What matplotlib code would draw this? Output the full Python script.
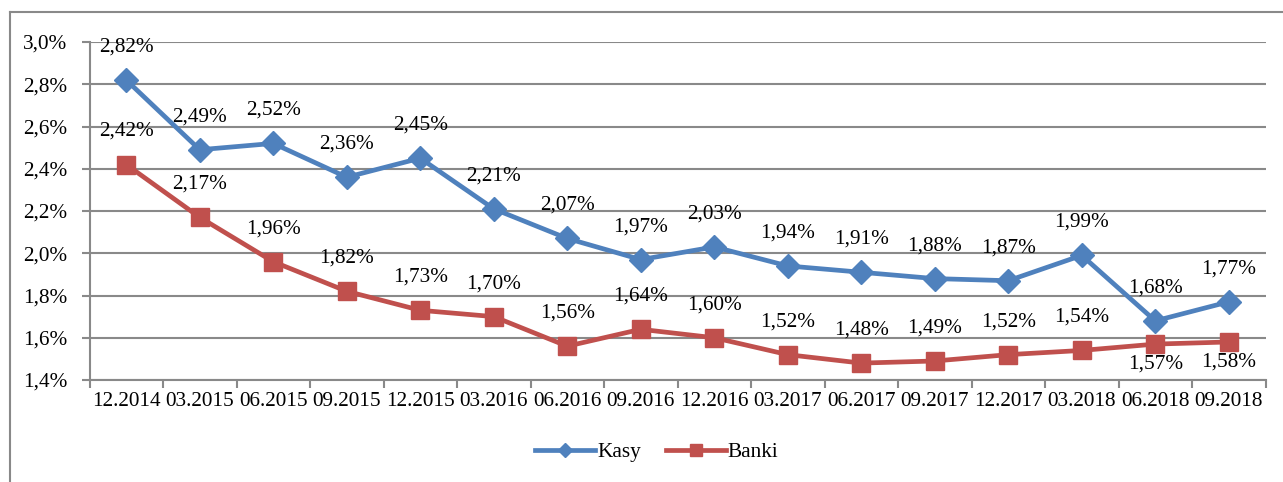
import matplotlib
matplotlib.use("Agg")
import matplotlib.pyplot as plt
from matplotlib.lines import Line2D
from matplotlib.ticker import FixedLocator, FuncFormatter

categories = ["12.2014", "03.2015", "06.2015", "09.2015", "12.2015", "03.2016",
              "06.2016", "09.2016", "12.2016", "03.2017", "06.2017", "09.2017",
              "12.2017", "03.2018", "06.2018", "09.2018"]
kasy = [2.82, 2.49, 2.52, 2.36, 2.45, 2.21, 2.07, 1.97, 2.03, 1.94, 1.91, 1.88,
        1.87, 1.99, 1.68, 1.77]
banki = [2.42, 2.17, 1.96, 1.82, 1.73, 1.70, 1.56, 1.64, 1.60, 1.52, 1.48, 1.49,
         1.52, 1.54, 1.57, 1.58]
banki_below = [False] * 14 + [True, True]

plt.rcParams['font.family'] = ['Liberation Serif', 'DejaVu Serif']
FS = 15.3
W, H = 1283, 482
fig = plt.figure(figsize=(W / 100, H / 100), dpi=100)
ax = fig.add_axes([89.5 / W, 102 / H, 1176 / W, 338 / H])

blue = "#4F81BD"
red = "#C0504D"
grid = "#898989"
x = list(range(len(categories)))

ax.plot(x, kasy, color=blue, lw=3.4, marker="D", ms=12, mec=blue, label="Kasy", zorder=3)
ax.plot(x, banki, color=red, lw=3.4, marker="s", ms=13, mec=red, label="Banki", zorder=3)

px = 0.72
for i, v in enumerate(kasy):
    ax.annotate(f"{v:.2f}%".replace(".", ","), (i, v), xytext=(0, 33 * px),
                textcoords="offset points", ha="center", va="center", fontsize=FS)
for i, v in enumerate(banki):
    off = -20 if banki_below[i] else 33
    ax.annotate(f"{v:.2f}%".replace(".", ","), (i, v), xytext=(0, off * px),
                textcoords="offset points", ha="center", va="center", fontsize=FS)

ax.set_xlim(-0.5, len(categories) - 0.5)
ax.set_ylim(1.4, 3.0)
ax.set_yticks([1.4, 1.6, 1.8, 2.0, 2.2, 2.4, 2.6, 2.8, 3.0])
ax.yaxis.set_major_formatter(FuncFormatter(lambda v, p: f"{v:.1f}%".replace(".", ",")))
ax.set_xticks(x)
ax.set_xticklabels(categories)
ax.xaxis.set_minor_locator(FixedLocator([i - 0.5 for i in range(len(categories) + 1)]))
ax.tick_params(axis="x", which="major", length=0, pad=9, labelsize=FS)
ax.tick_params(axis="x", which="minor", length=6, width=1.5, color=grid, direction="out")
ax.tick_params(axis="y", which="major", length=6, width=1.5, color=grid, pad=10, labelsize=FS)
ax.grid(axis="y", color=grid, lw=1.5)
ax.set_axisbelow(True)
for s in ["top", "right"]:
    ax.spines[s].set_visible(False)
for s in ["left", "bottom"]:
    ax.spines[s].set_color(grid)
    ax.spines[s].set_linewidth(1.5)

fig.legend(loc="center", bbox_to_anchor=(657 / W, 1 - 452 / H), ncol=2, frameon=False,
           fontsize=FS, handlelength=2.8, markerscale=0.62, columnspacing=1.2,
           handletextpad=0.1)

fig.add_artist(Line2D([10 / W, 1], [1 - 12 / H, 1 - 12 / H], color=grid, lw=1.5,
                      transform=fig.transFigure))
fig.add_artist(Line2D([10 / W, 10 / W], [0, 1 - 12 / H], color=grid, lw=1.5,
                      transform=fig.transFigure))

fig.savefig("out.png", dpi=100)
